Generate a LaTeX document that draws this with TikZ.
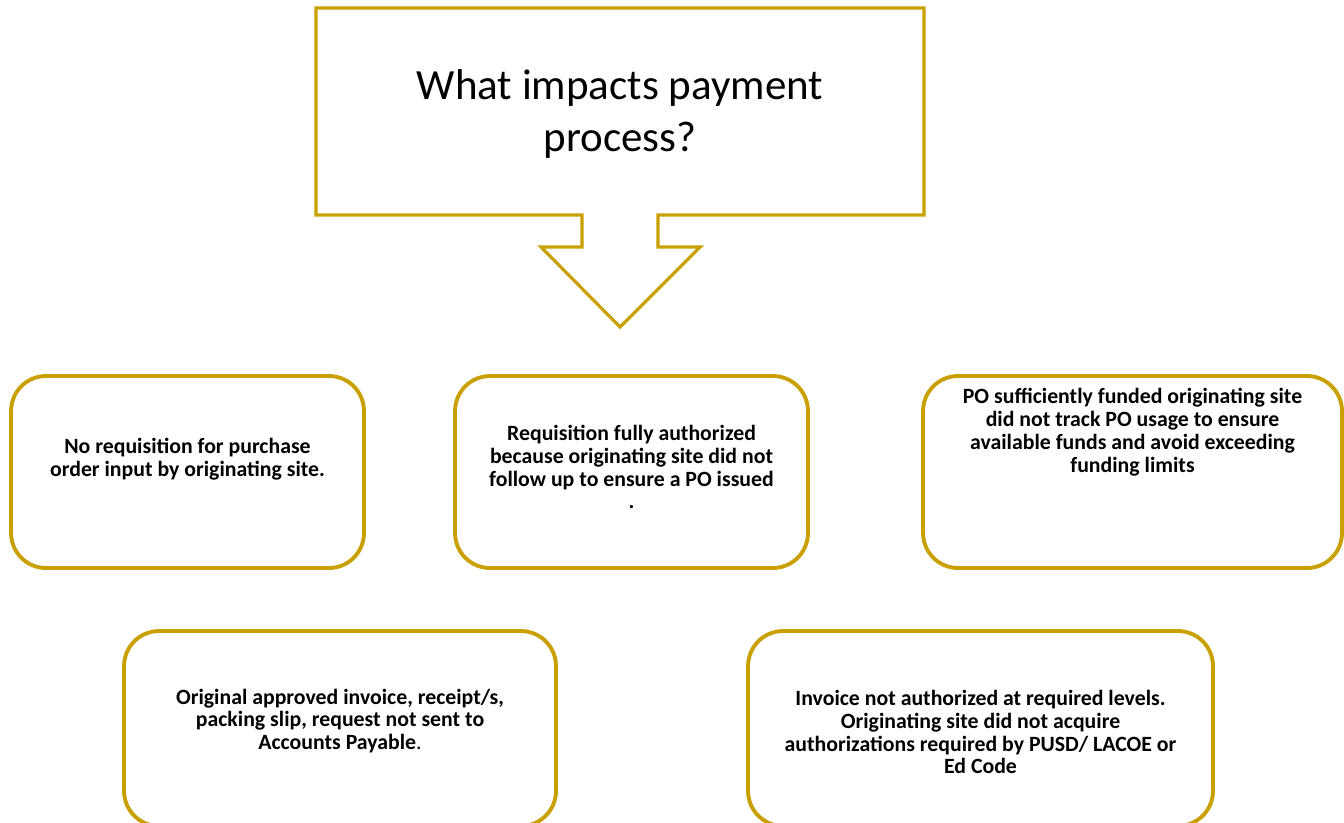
\documentclass[tikz,border=0pt]{standalone}
\usepackage{fontspec}
\setmainfont{Carlito}
\usepackage{xcolor}
\usepackage{tikz}
\usetikzlibrary{positioning}

\definecolor{gold}{RGB}{201,160,0}

\tikzset{
  cause/.style={draw=gold, line width=2.2pt, rounded corners=0.7cm, fill=white,
    minimum height=3.84cm},
  causetext/.style={align=center, font=\fontsize{12.4}{13}\selectfont\bfseries},
}

\begin{document}
\begin{tikzpicture}[x=0.02cm, y=-0.02cm]
\useasboundingbox (0,0) rectangle (1344,822);

% Callout with downward arrow
\draw[gold, line width=1.8pt, line join=miter]
  (316,8) -- (924,8) -- (924,215) -- (658,215) -- (658,247) -- (700,247)
  -- (620,327) -- (541,247) -- (582,247) -- (582,215) -- (316,215) -- cycle;
\node[align=center, font=\fontsize{24.5}{29.5}\selectfont] (title) at (620,114)
  {What impacts payment\\process?};

% First row of causes
\node[cause, minimum width=7.06cm] (c1) at (187.5,472) {};
\node[causetext] (t1) at (187.5,459)
  {No requisition for purchase\\order input by originating site.};

\node[cause, minimum width=7.06cm] (c2) at (631.5,472) {};
\node[causetext] (t2) at (631.5,467)
  {Requisition fully authorized\\because originating site did not\\follow up to ensure a PO issued\\.};

\node[cause, minimum width=8.38cm] (c3) at (1132.5,472) {};
\node[causetext] (t3) at (1132.5,432)
  {PO sufficiently funded originating site\\did not track PO usage to ensure\\available funds and avoid exceeding\\funding limits};

% Second row of causes
\node[cause, minimum width=8.64cm, minimum height=3.9cm] (c4) at (340,728.5) {};
\node[causetext] (t4) at (340,721)
  {Original approved invoice, receipt/s,\\packing slip, request not sent to\\Accounts Payable{\mdseries.}};

\node[cause, minimum width=9.3cm, minimum height=3.9cm] (c5) at (980.5,728.5) {};
\node[causetext] (t5) at (980.5,732)
  {Invoice not authorized at required levels.\\Originating site did not acquire\\authorizations required by PUSD/ LACOE or\\Ed Code};
\end{tikzpicture}
\end{document}
